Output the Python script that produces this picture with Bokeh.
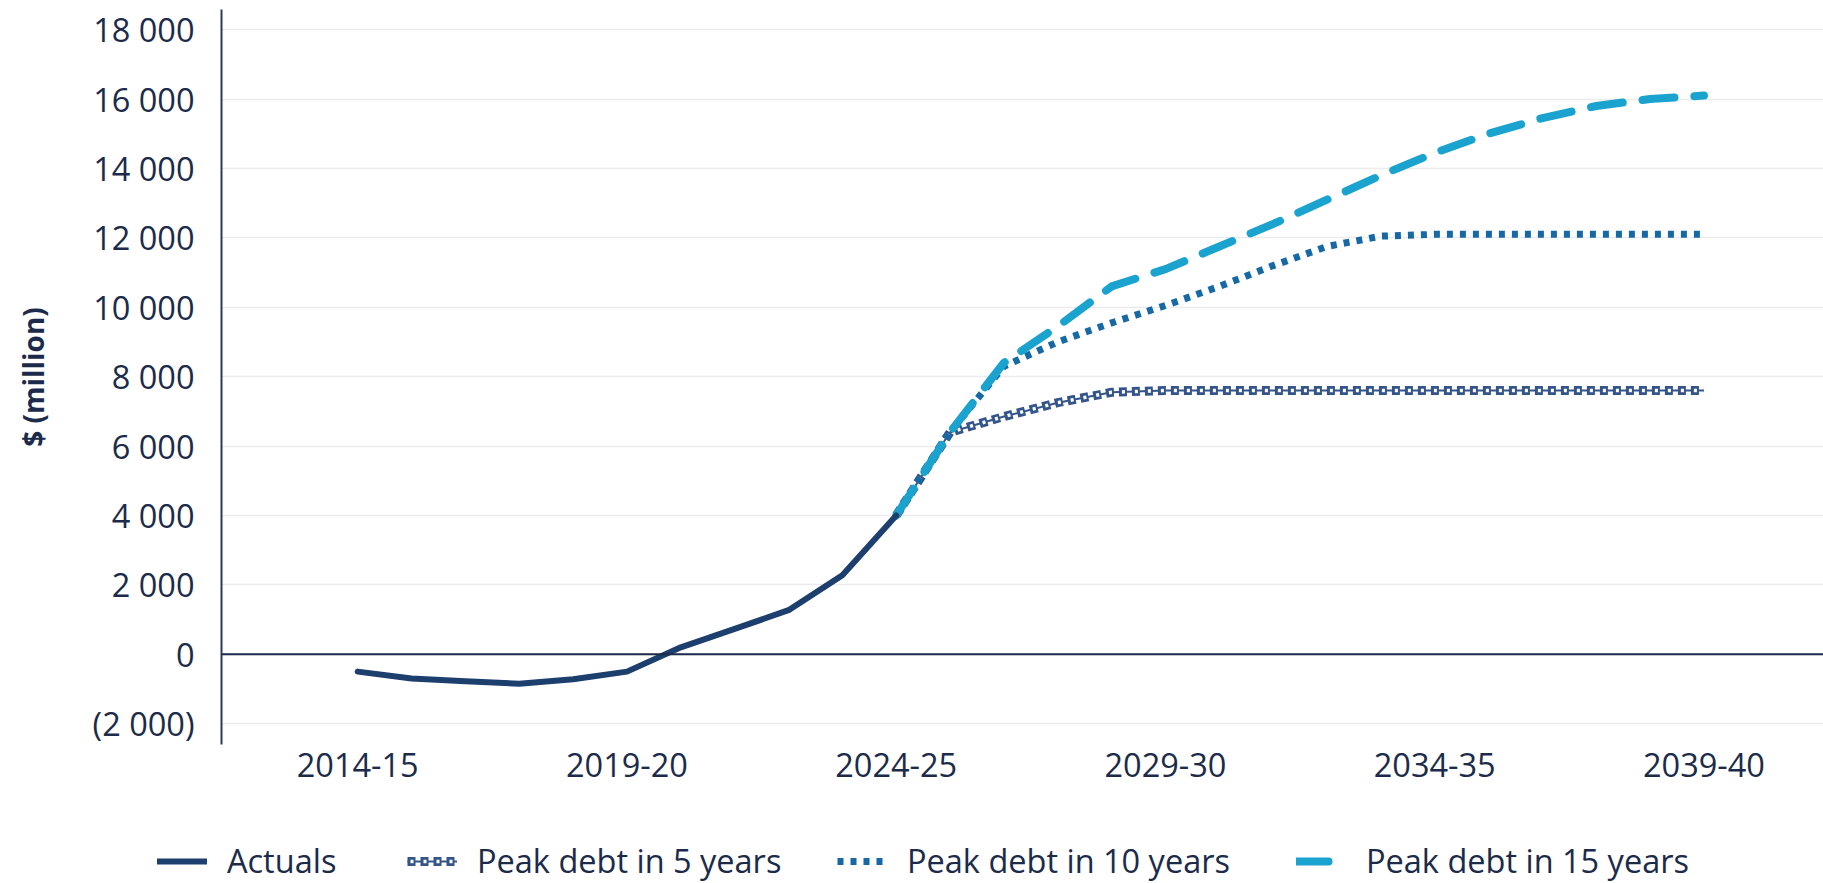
from bokeh.plotting import figure
from bokeh.layouts import column
from bokeh.models import FixedTicker, Legend, LegendItem, Span, Range1d
from bokeh.embed import file_html
from bokeh.resources import INLINE

years = ["2014-15", "2015-16", "2016-17", "2017-18", "2018-19", "2019-20",
         "2020-21", "2021-22", "2022-23", "2023-24", "2024-25", "2025-26",
         "2026-27", "2027-28", "2028-29", "2029-30", "2030-31", "2031-32",
         "2032-33", "2033-34", "2034-35", "2035-36", "2036-37", "2037-38",
         "2038-39", "2039-40"]

actual_years = ["2014-15", "2015-16", "2016-17", "2017-18", "2018-19", "2019-20",
                "2020-21", "2021-22", "2022-23", "2023-24", "2024-25"]
actual_values = [-500, -700, -780, -850, -720, -500, 200, 730, 1270, 2280, 4000]

proj_years = ["2024-25", "2025-26", "2026-27", "2027-28", "2028-29", "2029-30",
              "2030-31", "2031-32", "2032-33", "2033-34", "2034-35", "2035-36",
              "2036-37", "2037-38", "2038-39", "2039-40"]
peak5 = [4000, 6400, 6850, 7250, 7550, 7600, 7600, 7600, 7600, 7600, 7600, 7600,
         7600, 7600, 7600, 7600]
peak10 = [4000, 6400, 8300, 9000, 9550, 10050, 10600, 11200, 11750, 12050, 12100,
          12100, 12100, 12100, 12100, 12100]
peak15 = [4000, 6400, 8400, 9450, 10600, 11100, 11750, 12400, 13100, 13800, 14450,
          15000, 15450, 15800, 16000, 16100]

y_ticks = [-2000, 0, 2000, 4000, 6000, 8000, 10000, 12000, 14000, 16000, 18000]
y_tick_labels = ["(2 000)", "0", "2 000", "4 000", "6 000", "8 000", "10 000",
                 "12 000", "14 000", "16 000", "18 000"]
x_tick_labels = ["2014-15", "2019-20", "2024-25", "2029-30", "2034-35", "2039-40"]

series_names = ["Actuals", "Peak debt in 5 years", "Peak debt in 10 years",
                "Peak debt in 15 years"]

FONT = "Open Sans"
TEXT = "#1c2b4a"
NAVY = "#1d3f6e"
CHAIN = "#34558a"
MID = "#1769a6"
LIGHT = "#1ba3cf"
FS = "32.5px"

STYLE_ACT = dict(line_color=NAVY, line_width=6, line_join="round", line_cap="round")
STYLE_5A = dict(line_color=CHAIN, line_width=2)
STYLE_5B = dict(line_color=CHAIN, line_width=9, line_dash="8 5")
STYLE_5C = dict(line_color="white", line_width=3.5, line_dash="3 10", line_dash_offset=10)
STYLE_10 = dict(line_color=MID, line_width=7, line_dash="6 7")
STYLE_15 = dict(line_color=LIGHT, line_width=8, line_dash="32 20", line_cap="round")

xa = [years.index(y) for y in actual_years]
xp = [years.index(y) for y in proj_years]

P_H = 788
p = figure(width=1823, height=P_H, output_backend="svg", toolbar_location=None,
           x_range=Range1d(-2.53, 27.22), y_range=Range1d(-2600, 18580),
           min_border_left=221, min_border_right=0, min_border_top=9,
           min_border_bottom=P_H - 744)
p.outline_line_color = None
p.background_fill_color = "white"
p.border_fill_color = "white"

# grid
p.xgrid.grid_line_color = None
p.ygrid.grid_line_color = "#ececec"
p.ygrid.grid_line_width = 1.5
p.ygrid.ticker = FixedTicker(ticks=y_ticks)

# y axis
p.yaxis.ticker = FixedTicker(ticks=y_ticks)
p.yaxis.major_label_overrides = {t: l for t, l in zip(y_ticks, y_tick_labels)}
p.yaxis.axis_line_color = "#2e3a55"
p.yaxis.axis_line_width = 2
p.yaxis.major_tick_line_color = None
p.yaxis.minor_tick_line_color = None
p.yaxis.major_label_text_font = FONT
p.yaxis.major_label_text_font_size = FS
p.yaxis.major_label_text_color = TEXT
p.yaxis.major_label_standoff = 21
p.yaxis.axis_label = "$ (million)"
p.yaxis.axis_label_text_font = FONT
p.yaxis.axis_label_text_font_size = "28px"
p.yaxis.axis_label_text_font_style = "bold"
p.yaxis.axis_label_text_color = TEXT
p.yaxis.axis_label_standoff = 38

# x axis
x_ticks = [years.index(l) for l in x_tick_labels]
p.xaxis.ticker = FixedTicker(ticks=x_ticks)
p.xaxis.major_label_overrides = {t: l for t, l in zip(x_ticks, x_tick_labels)}
p.xaxis.axis_line_color = None
p.xaxis.major_tick_line_color = None
p.xaxis.minor_tick_line_color = None
p.xaxis.major_label_text_font = FONT
p.xaxis.major_label_text_font_size = FS
p.xaxis.major_label_text_color = TEXT
p.xaxis.major_label_standoff = 2

# zero line
p.add_layout(Span(location=0, dimension="width", line_color="#1c2b4a", line_width=2))

# peak debt in 5 years: chain of open links
p.line(xp, peak5, **STYLE_5A)
p.line(xp, peak5, **STYLE_5B)
p.line(xp, peak5, **STYLE_5C)
# peak debt in 10 years: dotted
p.line(xp, peak10, **STYLE_10)
# peak debt in 15 years: dashed
p.line(xp, peak15, **STYLE_15)
# actuals
p.line(xa, actual_values, **STYLE_ACT)

# legend strip (its own renderers are kept out of its visible range)
lg = figure(width=1823, height=883 - P_H, output_backend="svg", toolbar_location=None,
            x_axis_type=None, y_axis_type=None, min_border=0,
            x_range=Range1d(-2.53, 27.22), y_range=Range1d(50000, 50001))
lg.outline_line_color = None
lg.xgrid.grid_line_color = None
lg.ygrid.grid_line_color = None

aligned_off = 0
try:
    p.frame_align = False
    lg.frame_align = False
except Exception:
    aligned_off = 221

la = lg.line(xa, actual_values, **STYLE_ACT)
l5a = lg.line(xp, peak5, **STYLE_5A)
l5b = lg.line(xp, peak5, **STYLE_5B)
l5c = lg.line(xp, peak5, **STYLE_5C)
l10 = lg.line(xp, peak10, **STYLE_10)
l15 = lg.line(xp, peak15, **STYLE_15)

entries = [
    (series_names[0], [la], 157),
    (series_names[1], [l5a, l5b, l5c], 407),
    (series_names[2], [l10], 837),
    (series_names[3], [l15], 1296),
]
for name, rends, xloc in entries:
    leg = Legend(items=[LegendItem(label=name, renderers=rends)],
                 location=(xloc - aligned_off, 0), orientation="horizontal",
                 border_line_color=None, background_fill_alpha=0,
                 padding=0, margin=0, glyph_width=50, glyph_height=30,
                 label_height=30, label_standoff=20,
                 label_text_font=FONT, label_text_font_size=FS,
                 label_text_color=TEXT, label_text_baseline="middle")
    lg.add_layout(leg, "center")

layout = column(p, lg, spacing=0)
open("out.html", "w").write(file_html(layout, INLINE))
